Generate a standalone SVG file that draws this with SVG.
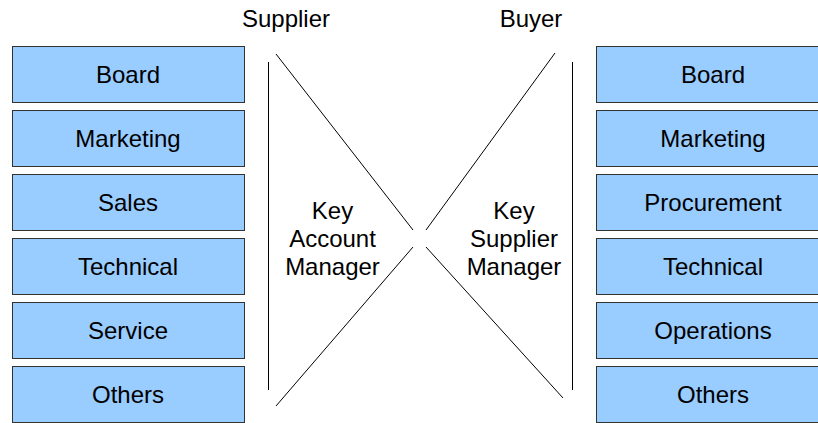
<svg xmlns="http://www.w3.org/2000/svg" width="818" height="423" viewBox="0 0 818 423">
  <style>
    .box rect { fill: #99ccff; stroke: #333333; stroke-width: 1; }
    text { font-family: "Liberation Sans", Arial, sans-serif; font-size: 24px; fill: #000; text-anchor: middle; }
    .conn line { stroke: #000; stroke-width: 1; }
  </style>
  <rect width="818" height="423" fill="#ffffff"/>

  <!-- column headings -->
  <text id="supplier-heading" x="286" y="27">Supplier</text>
  <text id="buyer-heading" x="531" y="27">Buyer</text>

  <!-- supplier side functions -->
  <g id="s-board" class="box"><rect x="12.5" y="46.5" width="232" height="56"/><text x="128" y="83">Board</text></g>
  <g id="s-marketing" class="box"><rect x="12.5" y="110.5" width="232" height="56"/><text x="128" y="147">Marketing</text></g>
  <g id="s-sales" class="box"><rect x="12.5" y="174.5" width="232" height="56"/><text x="128" y="211">Sales</text></g>
  <g id="s-technical" class="box"><rect x="12.5" y="238.5" width="232" height="56"/><text x="128" y="275">Technical</text></g>
  <g id="s-service" class="box"><rect x="12.5" y="302.5" width="232" height="56"/><text x="128" y="339">Service</text></g>
  <g id="s-others" class="box"><rect x="12.5" y="366.5" width="232" height="56"/><text x="128" y="403">Others</text></g>

  <!-- buyer side functions -->
  <g id="b-board" class="box"><rect x="596.5" y="46.5" width="232" height="56"/><text x="713" y="83">Board</text></g>
  <g id="b-marketing" class="box"><rect x="596.5" y="110.5" width="232" height="56"/><text x="713" y="147">Marketing</text></g>
  <g id="b-procurement" class="box"><rect x="596.5" y="174.5" width="232" height="56"/><text x="713" y="211">Procurement</text></g>
  <g id="b-technical" class="box"><rect x="596.5" y="238.5" width="232" height="56"/><text x="713" y="275">Technical</text></g>
  <g id="b-operations" class="box"><rect x="596.5" y="302.5" width="232" height="56"/><text x="713" y="339">Operations</text></g>
  <g id="b-others" class="box"><rect x="596.5" y="366.5" width="232" height="56"/><text x="713" y="403">Others</text></g>

  <!-- the two key managers -->
  <g id="key-account-manager">
    <text x="332.5" y="219">Key</text>
    <text x="332.5" y="247">Account</text>
    <text x="332.5" y="275">Manager</text>
  </g>
  <g id="key-supplier-manager">
    <text x="514" y="219">Key</text>
    <text x="514" y="247">Supplier</text>
    <text x="514" y="275">Manager</text>
  </g>

  <!-- bracket lines and the crossing funnel -->
  <g id="connectors" class="conn">
    <line x1="268.5" y1="62" x2="268.5" y2="390"/>
    <line x1="572.5" y1="62" x2="572.5" y2="390"/>
    <line x1="276" y1="54" x2="413" y2="230"/>
    <line x1="276" y1="406" x2="413" y2="247"/>
    <line x1="555" y1="53" x2="426" y2="230"/>
    <line x1="426" y1="247" x2="563" y2="398"/>
  </g>
</svg>
